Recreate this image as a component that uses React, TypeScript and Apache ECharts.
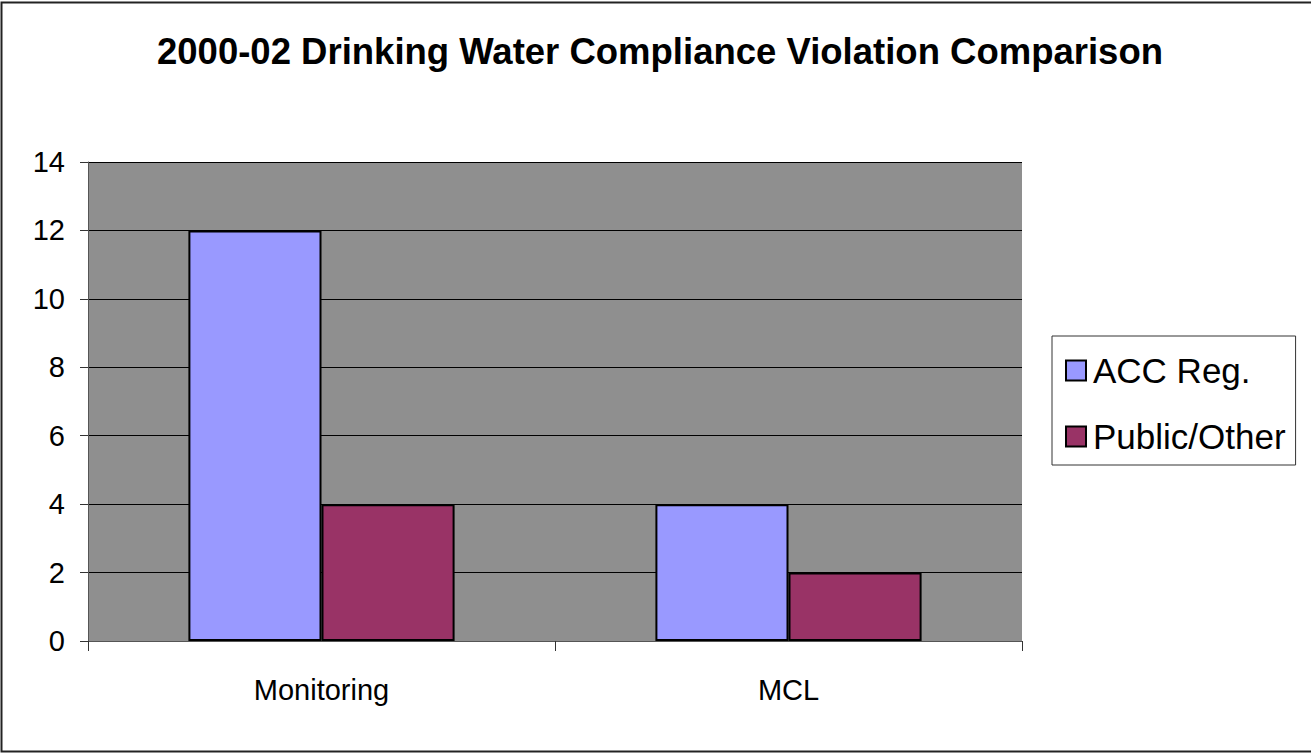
import React, { useEffect, useRef } from "react";
import * as echarts from "echarts";

const categories = ["Monitoring", "MCL"];
const accReg = [12, 4];
const publicOther = [4, 2];
const seriesNames = ["ACC Reg.", "Public/Other"];
const titleText = "2000-02 Drinking Water Compliance Violation Comparison";

export default function App() {
  const ref = useRef<HTMLDivElement>(null);
  useEffect(() => {
    const chart = echarts.init(ref.current!, null, { renderer: "svg" });
    const font = "Liberation Sans, Arial, sans-serif";
    chart.setOption({
      animation: false,
      backgroundColor: "#ffffff",
      title: {
        text: titleText,
        left: 655,
        textAlign: "center",
        top: 28,
        textStyle: { fontFamily: font, fontSize: 36.5, fontWeight: "bold", color: "#000" },
      },
      graphic: [
        {
          type: "rect",
          shape: { x: 1.5, y: 2.5, width: 1320, height: 749 },
          style: { fill: "none", stroke: "#222", lineWidth: 2 },
          z: 100,
        },
      ],
      legend: {
        orient: "vertical",
        left: 1052,
        top: 336,
        padding: [17, 10, 11, 13],
        itemGap: 31,
        itemWidth: 20,
        itemHeight: 20,
        borderColor: "#333",
        borderWidth: 1,
        icon: "rect",
        itemStyle: { borderColor: "#000", borderWidth: 2 },
        textStyle: { fontFamily: font, fontSize: 35, lineHeight: 34, color: "#000", padding: [0, 0, 0, 2] },
        data: seriesNames,
      },
      grid: { left: 88, right: 289, top: 162, bottom: 113, show: true, backgroundColor: "#8f8f8f", borderWidth: 0 },
      xAxis: {
        type: "category",
        data: categories,
        axisLine: { lineStyle: { color: "#555", width: 1 } },
        axisTick: { show: true, length: 10, lineStyle: { color: "#333" } },
        axisLabel: { fontFamily: font, fontSize: 29, color: "#000", margin: 34 },
      },
      yAxis: {
        type: "value",
        min: 0,
        max: 14,
        interval: 2,
        axisLine: { show: true, lineStyle: { color: "#555", width: 1 } },
        axisTick: { show: true, length: 8, lineStyle: { color: "#333" } },
        axisLabel: { fontFamily: font, fontSize: 29, color: "#000", margin: 23 },
        splitLine: { show: true, lineStyle: { color: "#000", width: 1 } },
      },
      series: [
        {
          name: seriesNames[0],
          type: "bar",
          data: accReg,
          barGap: "0%",
          barCategoryGap: "43%",
          itemStyle: { color: "#9999ff", borderColor: "#000", borderWidth: 2 },
        },
        {
          name: seriesNames[1],
          type: "bar",
          data: publicOther,
          itemStyle: { color: "#993366", borderColor: "#000", borderWidth: 2 },
        },
      ],
    });
    return () => chart.dispose();
  }, []);
  return (
    <div
      ref={ref}
      style={{ position: "fixed", left: 0, top: 0, width: 1311, height: 754 }}
    />
  );
}
